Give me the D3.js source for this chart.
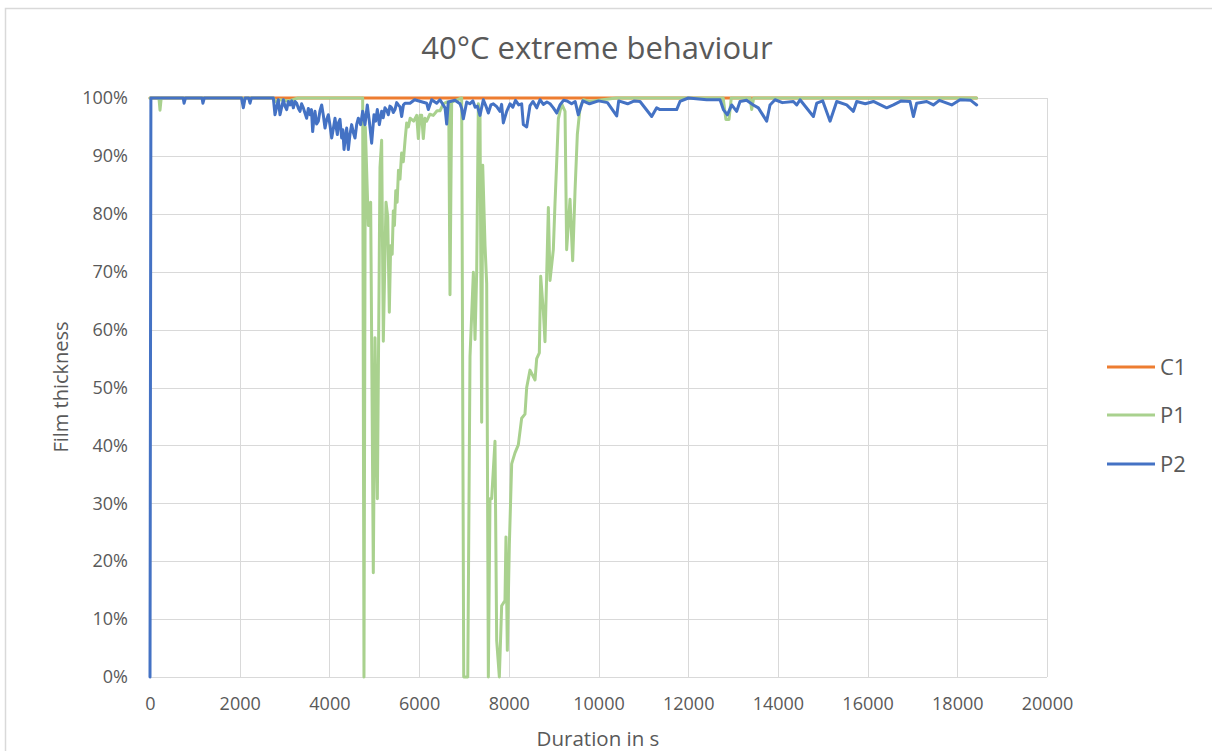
<!DOCTYPE html>
<html>
<head>
<meta charset="utf-8">
<script src="https://cdn.jsdelivr.net/npm/d3@7"></script>
<style>
  html, body { margin: 0; padding: 0; background: #ffffff; }
  svg { display: block; }
  text { font-family: "Open Sans", "DejaVu Sans", sans-serif; fill: #595959; }
</style>
</head>
<body>
<svg id="chart" width="1212" height="751"></svg>
<script>
// ---- Data ----
const chartTitle = "40°C extreme behaviour";
const xAxisTitle = "Duration in s";
const yAxisTitle = "Film thickness";
const seriesNames = ["C1", "P1", "P2"];
const xTicks = [0, 2000, 4000, 6000, 8000, 10000, 12000, 14000, 16000, 18000, 20000];
const yTicks = [0, 10, 20, 30, 40, 50, 60, 70, 80, 90, 100];

// [duration s, film thickness %]
const c1Data = [[0, 100], [18430, 100]];

const p1Data = [
  [0, 100], [200, 100], [223, 97.9], [250, 100], [2060, 100], [2090, 99.3], [2120, 100],
  [2750, 100], [2800, 99.4], [2900, 99.7], [3100, 99.5], [3300, 100], [4742, 100],
  [4771, 0], [4801, 95], [4868, 78], [4920, 82], [4979, 18], [5017, 58.6], [5069, 30.8],
  [5128, 88], [5165, 92.7], [5202, 58], [5262, 82], [5300, 79.5], [5336, 63], [5366, 74.5],
  [5400, 73], [5425, 80.5], [5450, 78], [5480, 84], [5510, 82], [5540, 87.5], [5574, 86],
  [5610, 90.5], [5648, 89], [5690, 93], [5723, 95.7], [5760, 95], [5800, 96.5], [5880, 96],
  [5946, 97], [5983, 93], [6020, 97], [6058, 97], [6094, 93], [6130, 96.5], [6169, 96],
  [6240, 97.2], [6317, 97], [6400, 97.8], [6466, 97.8], [6540, 99],
  [6615, 99.3], [6660, 99.3], [6689, 66], [6726, 99.3], [6949, 100], [6995, 0], [7085, 0],
  [7135, 55.3], [7210, 69.9], [7247, 58.3], [7284, 69.9], [7321, 99], [7358, 97],
  [7395, 44], [7418, 88.4], [7470, 74.5], [7507, 67.9], [7544, 0], [7581, 30.8],
  [7618, 30.8], [7692, 40.7], [7730, 6.3], [7789, 0], [7841, 12.3], [7915, 13.2],
  [7937, 24.2], [7967, 4.6], [8012, 22.8], [8064, 36.8], [8138, 38.7], [8212, 40.1],
  [8287, 44.7], [8361, 45.4], [8399, 50], [8473, 53], [8585, 51.3], [8622, 55],
  [8681, 56], [8711, 69.2], [8770, 63.2], [8807, 57.9], [8844, 69.2], [8882, 81.1],
  [8919, 68.5], [8993, 73.8], [9030, 81.8], [9068, 89], [9105, 96.4], [9179, 99],
  [9254, 97.7], [9290, 73.8], [9365, 82.5], [9424, 71.9], [9476, 83.8], [9528, 93.7],
  [9588, 98.3], [9662, 99.7], [9800, 99.4], [10000, 99.6], [10400, 100],
  [12780, 100], [12840, 96.3], [12910, 96.3], [12960, 100], [13380, 100], [13416, 98],
  [13460, 100], [18430, 100]
];

const p2Data = [
  [0, 0], [20, 100], [740, 100], [760, 99.1], [790, 100], [1160, 100], [1180, 99.1],
  [1210, 100], [2040, 100], [2081, 98.3], [2120, 100], [2200, 100], [2230, 99.1],
  [2260, 100], [2750, 100], [2787, 97.1], [2861, 99.7], [2899, 97.1], [2973, 99.7],
  [3010, 98.6], [3047, 98.0], [3085, 99.4], [3122, 98.8], [3160, 99.5], [3196, 98.3],
  [3235, 99.4], [3270, 99.1], [3310, 98.2], [3345, 97.7], [3380, 99.0], [3419, 98.3],
  [3455, 97.4], [3493, 96.5], [3530, 98.2], [3568, 97.1], [3600, 98.0], [3627, 94.2],
  [3655, 96.5], [3679, 97.7], [3715, 95.5], [3753, 96.0], [3790, 97.8], [3828, 98.8],
  [3865, 97.0], [3902, 94.8], [3940, 96.3], [3976, 97.1], [4015, 95.2], [4051, 93.1],
  [4090, 94.8], [4125, 96.5], [4150, 95.0], [4177, 93.7], [4205, 95.8], [4236, 96.3],
  [4273, 93.1], [4300, 94.5], [4326, 91.1], [4355, 93.0], [4385, 94.8], [4422, 91.1],
  [4460, 93.8], [4496, 95.4], [4535, 94.0], [4571, 93.1], [4610, 95.5],
  [4645, 96.5], [4697, 95.4], [4742, 97.7], [4794, 95.4], [4845, 98.8], [4890, 96.0],
  [4942, 92.2], [4994, 97.1], [5030, 96.0], [5069, 98.0], [5113, 95.4], [5165, 97.7],
  [5200, 96.6], [5239, 98.3], [5280, 97.9], [5314, 97.1], [5350, 98.6], [5388, 98.3],
  [5425, 97.5], [5462, 98.0], [5500, 99.2], [5537, 98.8], [5575, 98.5], [5611, 96.8],
  [5650, 98.8], [5685, 99.1], [5797, 99.1], [5900, 99.7], [6169, 99.1], [6206, 98.0],
  [6280, 99.7], [6392, 99.1], [6466, 99.7], [6578, 98.3], [6615, 95.5], [6650, 99.3],
  [6800, 99.6], [6912, 99.0], [6950, 98.2], [6986, 96.4], [7061, 99.3], [7130, 99.0],
  [7200, 99.5], [7250, 98.4], [7300, 98.6], [7358, 97.0], [7432, 99.7], [7490, 98.6],
  [7544, 97.4], [7600, 98.8], [7655, 99.0], [7730, 98.5], [7804, 97.7], [7840, 98.9],
  [7878, 95.7], [7953, 97.7], [8027, 99.0], [8090, 98.4], [8150, 99.6], [8220, 98.8],
  [8287, 99.0], [8324, 95.4], [8399, 95.0], [8473, 98.7], [8540, 99.4], [8622, 98.3],
  [8696, 99.7], [8770, 98.9], [8850, 99.3], [8920, 99.0], [8993, 98.3], [9068, 97.4],
  [9141, 98.8], [9220, 99.6], [9300, 99.5], [9400, 99.0], [9480, 99.4], [9550, 97.1],
  [9650, 99.5], [9800, 99.0], [10000, 99.5], [10200, 99.2], [10406, 96.9],
  [10450, 99.5], [10650, 99.0], [10800, 99.5], [10926, 99.4], [11186, 96.8], [11297, 98.3],
  [11371, 98.0], [11743, 98.0], [11817, 99.4], [12003, 100], [12412, 99.7],
  [12710, 99.7], [12784, 98.0], [12873, 97.1], [12970, 98.8], [13081, 97.7],
  [13155, 99.4], [13300, 99.6], [13452, 98.8], [13564, 98.3], [13750, 96.0], [13824, 98.8],
  [13936, 99.7], [14100, 99.2], [14345, 99.4], [14420, 98.8], [14494, 99.7], [14791, 96.8],
  [14866, 99.1], [15000, 99.5], [15163, 96.0], [15311, 99.4], [15534, 98.8], [15683, 97.7],
  [15757, 99.4], [15950, 99.0], [16129, 99.4], [16426, 98.3], [16575, 98.8], [16750, 99.5],
  [16946, 99.4], [17021, 96.8], [17095, 99.1], [17318, 99.4], [17466, 98.8], [17600, 99.6],
  [17875, 98.8], [18061, 99.7], [18300, 99.6], [18432, 98.8]
];

const seriesData = [c1Data, p1Data, p2Data];
const seriesColors = ["#ED7D31", "#A9D18E", "#4472C4"];

// ---- Layout ----
const svg = d3.select("#chart");
const plot = { left: 150, right: 1047, top: 98, bottom: 677 };

// chart area border
svg.append("rect")
  .attr("x", 5.5).attr("y", 8.5)
  .attr("width", 1230).attr("height", 760)
  .attr("fill", "none").attr("stroke", "#d9d9d9").attr("stroke-width", 1.5);

const x = d3.scaleLinear().domain([0, 20000]).range([plot.left, plot.right]);
const y = d3.scaleLinear().domain([0, 100]).range([plot.bottom, plot.top]);

// gridlines
const grid = svg.append("g");
grid.selectAll(".hg").data(yTicks).enter().append("line")
  .attr("x1", plot.left).attr("x2", plot.right)
  .attr("y1", d => Math.round(y(d)) + 0.5).attr("y2", d => Math.round(y(d)) + 0.5)
  .attr("stroke", "#d9d9d9").attr("stroke-width", 1);
grid.selectAll(".vg").data(xTicks).enter().append("line")
  .attr("y1", plot.top).attr("y2", plot.bottom)
  .attr("x1", d => Math.round(x(d)) + 0.5).attr("x2", d => Math.round(x(d)) + 0.5)
  .attr("stroke", "#d9d9d9").attr("stroke-width", 1);

// axes (labels only)
const xAxis = d3.axisBottom(x).tickValues(xTicks).tickSize(0).tickPadding(20)
  .tickFormat(d => String(d));
const gx = svg.append("g").attr("transform", `translate(0,${plot.bottom})`).call(xAxis);
gx.select(".domain").remove();
gx.selectAll("text").style("font-size", "18px").attr("fill", "#595959")
  .style("font-family", "'Open Sans', sans-serif");

const yAxis = d3.axisLeft(y).tickValues(yTicks).tickSize(0).tickPadding(22)
  .tickFormat(d => d + "%");
const gy = svg.append("g").attr("transform", `translate(${plot.left},0)`).call(yAxis);
gy.select(".domain").remove();
gy.selectAll("text").style("font-size", "18px").attr("fill", "#595959")
  .style("font-family", "'Open Sans', sans-serif");

// series lines
const line = d3.line().x(d => x(d[0])).y(d => y(d[1]));
svg.append("g").selectAll("path").data(seriesData).enter().append("path")
  .attr("d", line)
  .attr("fill", "none")
  .attr("stroke", (d, i) => seriesColors[i])
  .attr("stroke-width", 3)
  .attr("stroke-linejoin", "round")
  .attr("stroke-linecap", "round");

// title
svg.append("text")
  .attr("x", 597).attr("y", 59)
  .attr("text-anchor", "middle")
  .style("font-size", "31px")
  .text(chartTitle);

// axis titles
svg.append("text")
  .attr("x", 598).attr("y", 746)
  .attr("text-anchor", "middle")
  .style("font-size", "20.5px")
  .text(xAxisTitle);

svg.append("text")
  .attr("transform", "translate(68,387) rotate(-90)")
  .attr("text-anchor", "middle")
  .style("font-size", "20px")
  .text(yAxisTitle);

// legend
const legend = svg.append("g");
const legY = [367, 415, 464];
seriesNames.forEach((name, i) => {
  legend.append("line")
    .attr("x1", 1107).attr("x2", 1155)
    .attr("y1", legY[i]).attr("y2", legY[i])
    .attr("stroke", seriesColors[i]).attr("stroke-width", 3);
  legend.append("text")
    .attr("x", 1160).attr("y", legY[i] + 8)
    .style("font-size", "22px")
    .text(name);
});
</script>
</body>
</html>
